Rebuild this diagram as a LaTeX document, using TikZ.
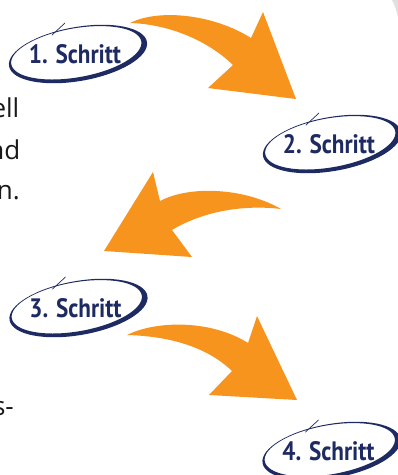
\documentclass[tikz,border=0pt]{standalone}
\usepackage{fontspec}
\setmainfont{Open Sans}
\newfontfamily\lblfont{PT Sans}
\definecolor{navy}{RGB}{30,42,98}
\definecolor{arroworange}{RGB}{247,148,30}
\tikzset{
  lbl/.style={anchor=base, inner sep=0pt, text=navy, font=\lblfont\bfseries},
  body/.style={anchor=base east, inner sep=0pt, text=black!90, font=\fontsize{26}{30}\selectfont},
  swoosh/.pic={
    \begin{scope}[rotate=10]
      \fill[navy, even odd rule] (0,0) ellipse [x radius=70, y radius=27]
        (-1.5,1.5) ellipse [x radius=66, y radius=24.5];
    \end{scope}
    \draw[navy, line width=0.7pt, line cap=round] (-26,19) -- (-13,31);
  },
  bigarrow/.style={fill=arroworange}
}
\begin{document}
\begin{tikzpicture}[x=1pt,y=1pt]
\useasboundingbox (0,0) rectangle (398,-475);
\clip (0,0) rectangle (398,-475);
% page corner shade
\fill[black!12] (392,0) .. controls (395,-6) .. (398,-17) -- (398,0) -- cycle;

% arrows
\fill[bigarrow] (130,-23) .. controls (160,-8) and (215,-15) .. (251,-38)
  -- (263,-12) -- (296,-99) -- (208,-88) -- (233,-65)
  .. controls (205,-38) and (165,-24) .. (130,-23) -- cycle;
\fill[bigarrow] (281,-209) .. controls (245,-188) and (190,-185) .. (160,-201)
  -- (153,-172) -- (104,-251) -- (192,-257) -- (172,-230)
  .. controls (200,-213) and (240,-204) .. (281,-209) -- cycle;
\fill[bigarrow] (127,-335) .. controls (157,-320) and (212,-320) .. (248,-343)
  -- (257,-316) -- (297,-400) -- (209,-395) -- (232,-371)
  .. controls (205,-345) and (165,-336) .. (127,-335) -- cycle;

% step labels
\node[lbl] (s1) at (75,-63) {\resizebox{92pt}{19pt}{1. Schritt}};
\node[lbl] (s2) at (329,-153) {\resizebox{92pt}{19pt}{2. Schritt}};
\node[lbl] (s3) at (75.5,-317) {\resizebox{92pt}{19pt}{3. Schritt}};
\node[lbl] (s4) at (328.5,-460) {\resizebox{92pt}{19pt}{4. Schritt}};
\pic at ([xshift=3pt,yshift=9pt]s1.base) {swoosh};
\pic at ([xshift=3pt,yshift=9pt]s2.base) {swoosh};
\pic at ([xshift=3pt,yshift=9pt]s3.base) {swoosh};
\pic at ([xshift=3pt,yshift=9pt]s4.base) {swoosh};

% cut-off body text
\node[body] (t1) at (19.5,-117) {ell};
\node[body] (t2) at (20.5,-159) {nd};
\node[body] (t3) at (20,-199) {n.};
\node[body] (t4) at (14,-415) {s-};
\end{tikzpicture}
\end{document}
